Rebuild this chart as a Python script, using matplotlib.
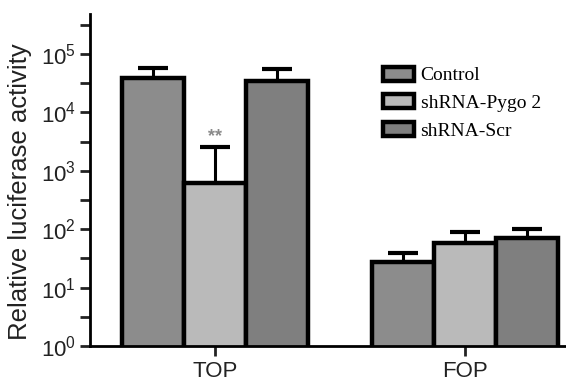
import matplotlib.pyplot as plt
import numpy as np

groups = ['TOP', 'FOP']
series = ['Control', 'shRNA-Pygo 2', 'shRNA-Scr']
means = {
    'Control': [39000, 27.5],
    'shRNA-Pygo 2': [620, 58],
    'shRNA-Scr': [35000, 71],
}
upper = {
    'Control': [57000, 39],
    'shRNA-Pygo 2': [2560, 89],
    'shRNA-Scr': [55000, 100],
}
colors = {'Control': '#8c8c8c', 'shRNA-Pygo 2': '#bababa', 'shRNA-Scr': '#7f7f7f'}

plt.rcParams['font.family'] = ['Liberation Sans', 'DejaVu Sans']
plt.rcParams['mathtext.fontset'] = 'custom'
plt.rcParams['mathtext.rm'] = 'Liberation Sans'
plt.rcParams['mathtext.it'] = 'Liberation Sans:italic'

fig = plt.figure(figsize=(5.66, 3.83), dpi=100)
ax = fig.add_axes([0.159, 0.0966, 0.841, 0.8664])

x = np.arange(len(groups))
width = 0.248
half_cap = 0.06
for i, s in enumerate(series):
    pos = x + (i - 1) * width
    m = np.array(means[s])
    u = np.array(upper[s])
    ax.bar(pos, m, width, color=colors[s], edgecolor='black', linewidth=3.2,
           label=s, zorder=2)
    # upper error bar only
    ax.vlines(pos, m, u, color='black', linewidth=2.2, zorder=1)
    ax.hlines(u, pos - half_cap, pos + half_cap, color='black', linewidth=3,
              zorder=1)

ax.text(x[0], 2800, '**', ha='center', va='bottom', fontsize=13,
        color='#8a8a8a', fontweight='bold')

ax.set_yscale('log')
ax.set_ylim(1, 10 ** 5.68)
ax.set_xlim(-0.5, 1.404)
ax.set_yticks([10 ** k for k in range(6)])
ax.set_yticks([10 ** (k + 0.5) for k in range(6)], minor=True)
ax.set_yticklabels(['$10^{%d}$' % k for k in range(6)])
ax.yaxis.set_minor_formatter(plt.NullFormatter())
ax.set_xticks(x)
ax.set_xticklabels(groups)
ax.tick_params(axis='both', which='both', direction='out', width=2, length=7,
               labelsize=16, colors='#222222')
ax.tick_params(axis='x', pad=4)
ax.tick_params(axis='y', pad=3)
ax.set_ylabel('Relative luciferase activity', fontsize=18.5, color='#222222')
ax.yaxis.set_label_coords(-0.122, 0.465)

for side in ['top', 'right']:
    ax.spines[side].set_visible(False)
for side in ['left', 'bottom']:
    ax.spines[side].set_linewidth(2)

leg = ax.legend(loc='upper left', bbox_to_anchor=(0.578, 0.895), frameon=False,
                prop={'family': 'Liberation Serif', 'size': 14},
                handlelength=1.6, handleheight=0.75, labelspacing=0.5,
                handletextpad=0.35)

fig.savefig('out.png', dpi=100)
